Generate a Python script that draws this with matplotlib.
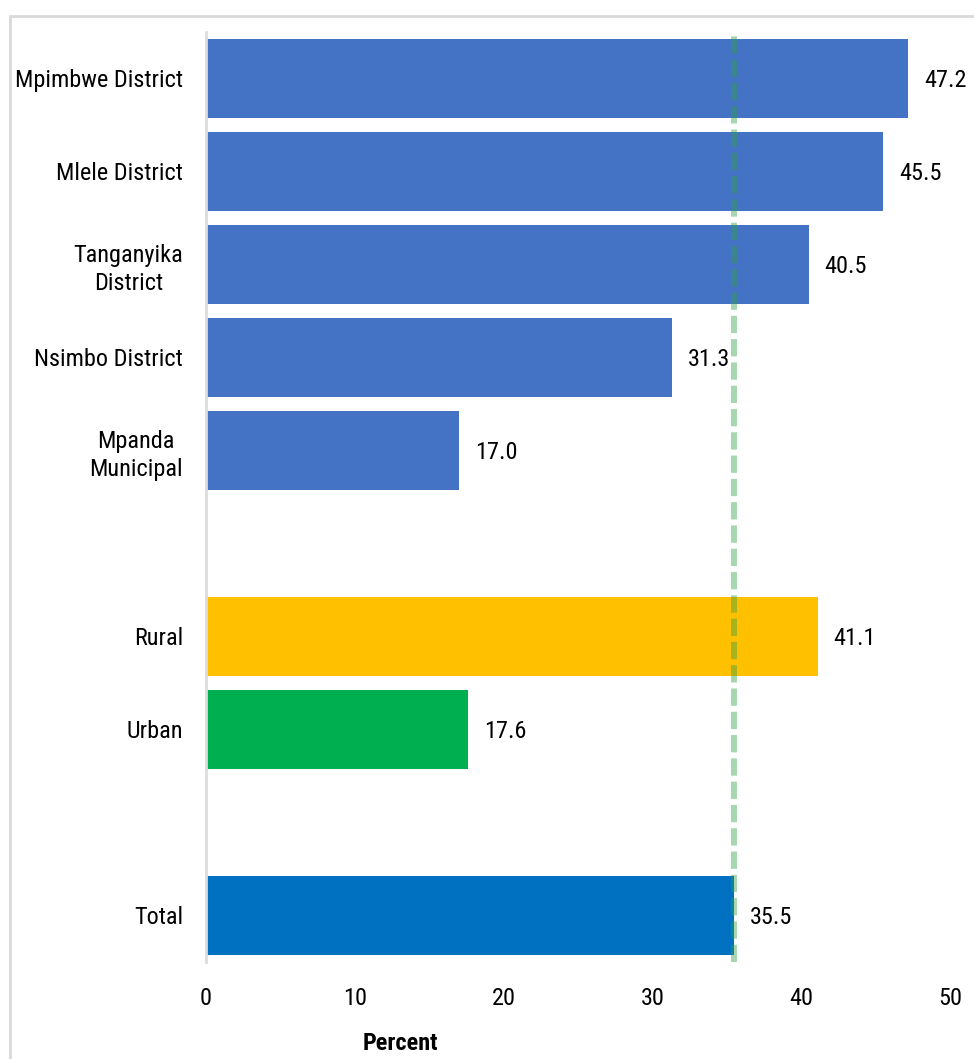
"""
Percent by district, residence and total - horizontal bar chart
"""

import matplotlib
matplotlib.use('Agg')
import matplotlib.pyplot as plt
from matplotlib import font_manager
from matplotlib.patches import Rectangle

# 数据
districts = ['Mpimbwe District', 'Mlele District', 'Tanganyika\nDistrict',
             'Nsimbo District', 'Mpanda\nMunicipal']
district_vals = [47.2, 45.5, 40.5, 31.3, 17.0]
residence = ['Rural', 'Urban']
residence_vals = [41.1, 17.6]
total_label = 'Total'
total_val = 35.5
x_ticks = [0, 10, 20, 30, 40, 50]

# 优先用窄体字体，否则缩小字号
installed = {f.name for f in font_manager.fontManager.ttflist}
FS = 15.5
for narrow, size in [('Liberation Sans Narrow', 18), ('Arial Narrow', 18),
                     ('Roboto Condensed', 17.5)]:
    if narrow in installed:
        plt.rcParams['font.family'] = [narrow, 'DejaVu Sans']
        FS = size
        break
else:
    plt.rcParams['font.family'] = ['Liberation Sans', 'DejaVu Sans']

fig = plt.figure(figsize=(9.74, 10.59), dpi=100)
ax = fig.add_axes([206 / 974, 1 - 962 / 1059, 744 / 974, 930 / 1059])

# 浅灰色外框
fig.patches.append(Rectangle((10 / 974, -0.05), 1.2, 1 - 16 / 1059 + 0.05,
                             transform=fig.transFigure, fill=False,
                             edgecolor='#d9d9d9', linewidth=2))

# 行位置（留两个空行）
labels = districts + residence + [total_label]
values = district_vals + residence_vals + [total_val]
colors = ['#4472C4'] * 5 + ['#FFC000', '#00B050', '#0070C0']
rows = [0, 1, 2, 3, 4, 6, 7, 9]

ax.barh(rows, values, height=0.86, color=colors)
for r, v in zip(rows, values):
    ax.annotate(f'{v:.1f}', (v, r), xytext=(11.5, -1.5), textcoords='offset points',
                va='center', ha='left', fontsize=FS)

# 总体参考线
ax.axvline(total_val, color='#2ea045', alpha=0.42, linewidth=4.3,
           linestyle=(0, (2.9, 1.0)))

ax.set_ylim(9.5, -0.5)
ax.set_xlim(0, 50)
ax.set_yticks(rows)
ax.set_yticklabels(labels, fontsize=FS, multialignment='center', linespacing=1.3)
ax.set_xticks(x_ticks)
ax.set_xticklabels([str(t) for t in x_ticks], fontsize=FS)
ax.tick_params(length=0, pad=18)
ax.tick_params(axis='y', pad=16.5)

for s in ['top', 'right', 'bottom']:
    ax.spines[s].set_visible(False)
ax.spines['left'].set_color('#dcdcdc')
ax.spines['left'].set_linewidth(2)

fig.text(400 / 974, 1 - 1044 / 1059, 'Percent', ha='center', va='center',
         fontsize=FS, fontweight='bold')

fig.savefig('out.png', dpi=100)
